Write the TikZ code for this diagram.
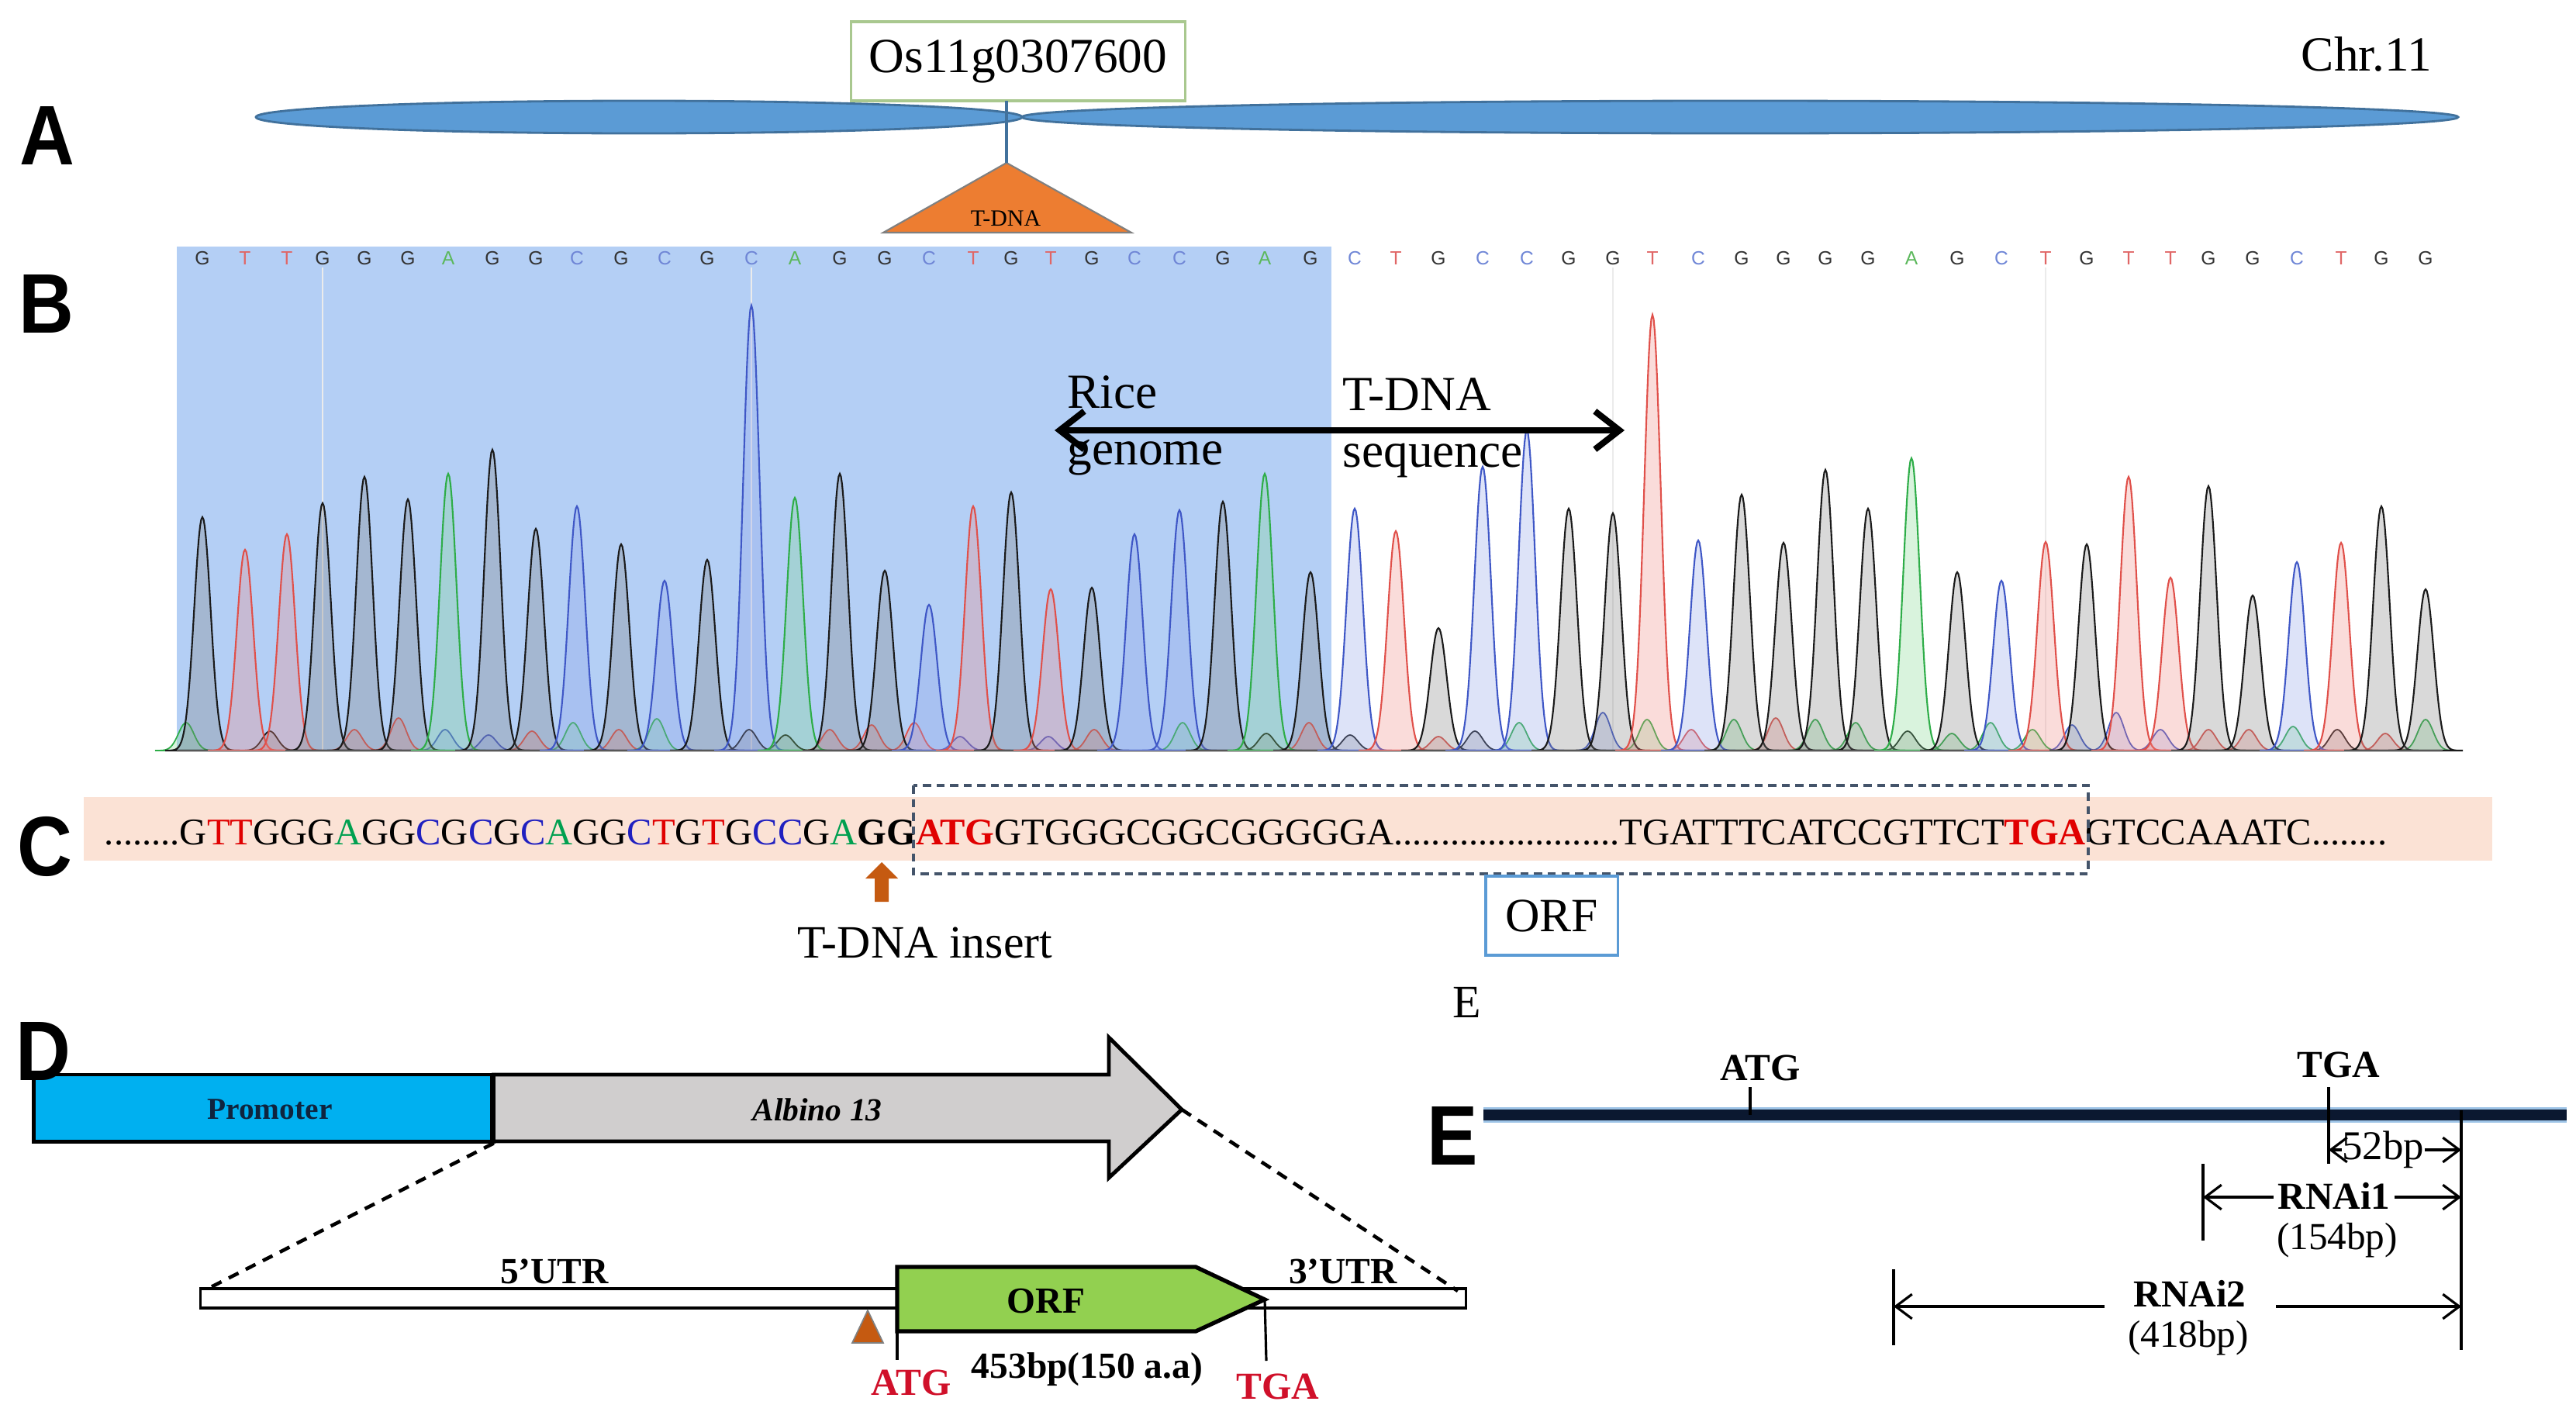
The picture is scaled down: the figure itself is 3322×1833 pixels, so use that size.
\documentclass[tikz,border=0pt]{standalone}
\usepackage{fontspec}
\setmainfont{Liberation Serif}
\newfontfamily\lblfont{Liberation Sans}[FakeStretch=0.9]
\newfontfamily\chromfont{Liberation Sans}
\usetikzlibrary{arrows.meta}
\definecolor{chromfill}{HTML}{5B9BD5}
\definecolor{chromline}{HTML}{41719C}
\definecolor{genebox}{HTML}{A9C88F}
\definecolor{tdnaor}{HTML}{ED7D31}
\definecolor{shadeblue}{RGB}{180,207,245}
\definecolor{pkG}{HTML}{1A1A1A}\definecolor{pkGf}{HTML}{808080}
\definecolor{pkT}{HTML}{E0504A}\definecolor{pkTf}{HTML}{F08A85}
\definecolor{pkC}{HTML}{3F57C6}\definecolor{pkCf}{HTML}{8FA2E8}
\definecolor{pkA}{HTML}{2EAD48}\definecolor{pkAf}{HTML}{80D890}
\definecolor{ltG}{HTML}{333333}\definecolor{ltT}{HTML}{E06666}
\definecolor{ltC}{HTML}{6F86D6}\definecolor{ltA}{HTML}{5CB85C}
\definecolor{seqR}{HTML}{E00000}\definecolor{seqB}{HTML}{2020C0}\definecolor{seqGr}{HTML}{00A050}
\definecolor{pinkband}{HTML}{FBE2D5}
\definecolor{dashbox}{HTML}{44546A}
\definecolor{orfblue}{HTML}{5B9BD5}
\definecolor{insbrown}{HTML}{C55A11}
\definecolor{promblue}{HTML}{00B0F0}
\definecolor{promtxt}{HTML}{0F243E}
\definecolor{arrgray}{HTML}{D0CECE}
\definecolor{orfgreen}{HTML}{92D050}
\definecolor{codred}{HTML}{D0102A}
\definecolor{navyline}{HTML}{0B1830}
\definecolor{halo}{HTML}{9DC3E6}
\newcommand{\cR}[1]{\textcolor{seqR}{#1}}
\newcommand{\cB}[1]{\textcolor{seqB}{#1}}
\newcommand{\cA}[1]{\textcolor{seqGr}{#1}}
\tikzset{
  panellbl/.style={font=\lblfont\bfseries\fontsize{31}{31}\selectfont, inner sep=0pt},
  txtA/.style={font=\fontsize{18}{20}\selectfont, inner sep=0pt},
  seqtxt/.style={font=\fontsize{13.8}{15}\selectfont, inner sep=0pt, outer sep=0pt},
  seqletter/.style={font=\chromfont\fontsize{7}{8}\selectfont, inner sep=0pt},
  dtxt/.style={font=\bfseries\fontsize{13.5}{15}\selectfont, inner sep=0pt},
  etxt/.style={font=\fontsize{14}{16}\selectfont, inner sep=0pt},
  ebold/.style={font=\bfseries\fontsize{14}{16}\selectfont, inner sep=0pt},
  thinln/.style={line width=0.9pt, black},
  dimarrow/.style={line width=0.9pt, -{Straight Barb[length=6pt,width=9pt]}},
  dashln/.style={line width=1.3pt, dash pattern=on 4pt off 3pt}
}
\begin{document}
\begin{tikzpicture}[x=0.01cm, y=-0.01cm]
\useasboundingbox (0,0) rectangle (3322,1833);

% ---------------- A ----------------
\node[panellbl] (lA) at (61,175) {A};
\draw[chromline, fill=chromfill, line width=0.8pt] (824,151) ellipse [x radius=494, y radius=21];
\draw[chromline, fill=chromfill, line width=0.8pt] (2244,151) ellipse [x radius=926, y radius=21];
\node[draw=genebox, fill=white, line width=1pt, minimum width=4.31cm, minimum height=1.02cm, txtA] (gene) at (1313,79) {Os11g0307600};
\coordinate (tdtop) at (1298,210);
\draw[fill=tdnaor, draw=gray, line width=0.6pt] (tdtop) -- (1459,300) -- (1139,300) -- cycle;
\draw[chromline, line width=0.9pt] (1298,130) -- (tdtop);
\node[font=\fontsize{8.5}{9}\selectfont, inner sep=0pt] (tdna) at (1297,282) {T-DNA};
\node[txtA] (chr) at (3052,70) {Chr.11};

% ---------------- B ----------------
\node[panellbl] (lB) at (60,392) {B};
\fill[shadeblue] (228,318) rectangle (1717,970);
\foreach \vx in {416,969,2080,2638} {
  \draw[black!8, line width=0.5pt] (\vx,345) -- (\vx,968);
}
% small background peaks
\foreach \px/\ph/\pc in {240/36/A,348/25/G,457/27/T,514/42/T,574/27/C,630/20/C,686/25/T,739/36/A,798/27/T,847/41/A,966/27/G,1013/20/G,1070/27/T,1124/33/T,1179/36/T,1238/18/C,1352/18/C,1411/27/T,1525/36/A,1633/22/G,1688/36/T,
1741/20/G,1855/18/T,1902/25/G,1959/36/A,2067/49/C,2124/40/A,2181/27/T,2236/40/A,2290/42/T,2341/40/A,2393/36/A,2460/25/G,2517/22/A,2567/36/A,2621/27/A,2672/33/C,2729/49/C,2786/27/C,2848/27/T,2900/27/T,2957/31/A,3014/27/G,3076/22/T,3128/40/A} {
  \filldraw[draw=pk\pc, fill=pk\pc f, fill opacity=0.3, line width=0.5pt]
    plot[domain=-40:40, samples=41] ({\px+\x},{968-\ph*exp(-(\x/14)*(\x/14))}) -- cycle;
}
% main peaks and base letters
\foreach \px/\ph/\pc in {261/301/G,316/259/T,370/279/T,416/319/G,470/353/G,526/324/G,578/357/A,635/388/G,691/286/G,744/315/C,801/266/G,857/219/C,912/246/G,969/574/C,1025/326/A,1083/357/G,1141/232/G,1198/188/C,1255/315/T,1304/333/G,1355/208/T,1408/210/G,1463/279/C,1521/310/C,1577/321/G,1631/357/A,1690/230/G,
1747/312/C,1800/283/T,1855/158/G,1912/366/C,1969/413/C,2023/312/G,2080/306/G,2131/562/T,2190/271/C,2246/330/G,2300/268/G,2354/362/G,2409/312/G,2465/377/A,2524/230/G,2581/219/C,2638/269/T,2691/266/G,2745/353/T,2799/223/T,2848/341/G,2905/200/G,2962/243/C,3019/268/T,3071/315/G,3128/208/G} {
  \filldraw[draw=pk\pc, fill=pk\pc f, fill opacity=0.3, line width=0.6pt]
    plot[domain=-48:48, samples=65] ({\px+\x},{968-\ph*exp(-(\x/15)*(\x/15))}) -- cycle;
  \node[seqletter, text=lt\pc] at (\px,333) {\pc};
}
\draw[gray!70, line width=0.8pt] (228,969) -- (3150,969);
\coordinate (rgL) at (1360,555);
\coordinate (rgR) at (2095,555);
\draw[line width=2.3pt, {Straight Barb[length=9pt,width=14pt]}-{Straight Barb[length=9pt,width=14pt]}] (rgL) -- (rgR);
\node[txtA, anchor=base west] (rice) at (1376,526) {Rice};
\node[txtA, anchor=base west] (genome) at (1376,599) {genome};
\node[txtA, anchor=base west] (tdna2) at (1731,529) {T-DNA};
\node[txtA, anchor=base west] (seqn) at (1731,602) {sequence};

% ---------------- C ----------------
\node[panellbl] (lC) at (58,1092) {C};
\fill[pinkband] (108,1028) rectangle (3214,1110);
\node[seqtxt, anchor=base west] (s2) at (1181,1089) {\cR{\textbf{ATG}}GTGGGCGGCGGGGGA........................TGATTTCATCCGTTCT\cR{\textbf{TGA}}};
\node[seqtxt, anchor=base east] (s1) at (s2.base west) {........G\cR{TT}GGG\cA{A}GG\cB{C}G\cB{C}G\cB{C}\cA{A}GG\cB{C}\cR{T}G\cR{T}G\cB{CC}G\cA{A}\textbf{GG}};
\node[seqtxt, anchor=base west] (s3) at (s2.base east) {GTCCAAATC........};
\draw[dashbox, line width=1pt, dash pattern=on 3pt off 2pt] ([xshift=-0.03cm]s2.west |- 0,1013) rectangle ([xshift=0.03cm]s2.east |- 0,1127);
\coordinate (insTip) at (1137,1112);
\fill[insbrown] (insTip) -- (1158,1133) -- (1146,1133) -- (1146,1163) -- (1128,1163) -- (1128,1133) -- (1116,1133) -- cycle;
\node[font=\fontsize{17}{19}\selectfont, inner sep=0pt, anchor=base] (tins) at (1193,1235) {T-DNA insert};
\node[draw=orfblue, line width=0.9pt, fill=white, minimum width=1.70cm, minimum height=1.02cm, font=\fontsize{17.5}{19}\selectfont] (orfbox) at (2001,1181) {ORF};
\node[font=\fontsize{17}{19}\selectfont, inner sep=0pt] (smallE) at (1892,1293) {E};

% ---------------- D ----------------
\node[draw=black, line width=1.4pt, fill=promblue, minimum width=5.90cm, minimum height=0.86cm, inner sep=0pt] (promo) at (339,1429) {};
\node[font=\bfseries\fontsize{11.2}{12}\selectfont, text=promtxt, inner sep=0pt] (promtext) at (348,1431) {Promoter};
\coordinate (gtip) at (1524,1431);
\draw[line width=1.4pt, fill=arrgray, line join=miter] (634,1386) -- (1430,1386) -- (1430,1338) -- (gtip) -- (1430,1519) -- (1430,1472) -- (634,1472);
\draw[line width=1.4pt] (promo.north east) -- (promo.south east);
\node[font=\bfseries\itshape\fontsize{11.8}{13}\selectfont, inner sep=0pt] (albino) at (1054,1431) {Albino 13};
\node[panellbl, anchor=center] (lD) at (56,1356) {D};
\node[draw=black, line width=1.1pt, fill=white, minimum width=16.31cm, minimum height=0.25cm, inner sep=0pt] (bar) at (1074.5,1674.5) {};
\coordinate (barL) at (272,1660);
\coordinate (barR) at (1880,1665);
\draw[dashln] (promo.south east) -- (barL);
\draw[dashln] (gtip) -- (barR);
\node[dtxt, anchor=base] (utr5) at (715,1655) {5’UTR};
\node[dtxt, anchor=base] (utr3) at (1732,1655) {3’UTR};
\coordinate (orfTip) at (1631,1676);
\draw[line width=1.5pt, fill=orfgreen, line join=miter] (1157,1634) -- (1542,1634) -- (orfTip) -- (1542,1717) -- (1157,1717) -- cycle;
\node[dtxt] (orfD) at (1349,1678) {ORF};
\draw[fill=insbrown, draw=gray, line width=0.5pt] (1119,1690) -- (1139,1732) -- (1099,1732) -- cycle;
\coordinate (atgD) at (1157,1754);
\coordinate (tgaD) at (1633,1755);
\draw[thinln] (1157,1717) -- (atgD);
\draw[thinln] (orfTip) -- (tgaD);
\node[dtxt, text=codred, font=\bfseries\fontsize{14}{15}\selectfont, anchor=base] (atgDl) at (1175,1799) {ATG};
\node[dtxt, text=codred, font=\bfseries\fontsize{14}{15}\selectfont, anchor=base] (tgaDl) at (1648,1804) {TGA};
\node[dtxt, anchor=base] (len) at (1402,1777) {453bp(150 a.a)};

% ---------------- E ----------------
\node[panellbl] (lE) at (1873,1465) {E};
\coordinate (eL) at (1913,1438);
\coordinate (eR) at (3310,1438);
\draw[halo, line width=5.5pt] (eL) -- (eR);
\draw[navyline, line width=3.8pt] (eL) -- (eR);
\draw[thinln] (2257,1402) -- (2257,1438);
\node[ebold, anchor=base] (atgE) at (2270,1393) {ATG};
\draw[thinln] (3003,1402) -- (3003,1501);
\node[ebold, anchor=base] (tgaE) at (3016,1389) {TGA};
\coordinate (vTop) at (3174,1432);
\coordinate (vBot) at (3174,1741);
\draw[thinln] (vTop) -- (vBot);
% 52bp
\node[font=\fontsize{15}{16}\selectfont, inner sep=0pt] (bp52) at (3073,1483) {52bp};
\coordinate (t52L) at (3003,1483);
\coordinate (t52R) at (3174,1483);
\draw[dimarrow] (bp52.west) -- (t52L);
\draw[dimarrow] (bp52.east) -- (t52R);
% RNAi1
\draw[thinln] (2841,1501) -- (2841,1600);
\node[ebold] (rnai1) at (3010,1542) {RNAi1};
\coordinate (r1L) at (2841,1544);
\coordinate (r1R) at (3174,1544);
\draw[dimarrow] ([xshift=-0.05cm]rnai1.west |- r1L) -- (r1L);
\draw[dimarrow] ([xshift=0.05cm]rnai1.east |- r1R) -- (r1R);
\node[etxt] (bp154) at (3014,1600) {(154bp)};
% RNAi2
\draw[thinln] (2442,1637) -- (2442,1735);
\node[ebold] (rnai2) at (2824,1668) {RNAi2};
\node[etxt] (bp418) at (2822,1726) {(418bp)};
\coordinate (r2L) at (2442,1685);
\coordinate (r2R) at (3174,1685);
\coordinate (r2gL) at (2714,1685);
\coordinate (r2gR) at (2935,1685);
\draw[dimarrow] (r2gL) -- (r2L);
\draw[dimarrow] (r2gR) -- (r2R);
\end{tikzpicture}
\end{document}
